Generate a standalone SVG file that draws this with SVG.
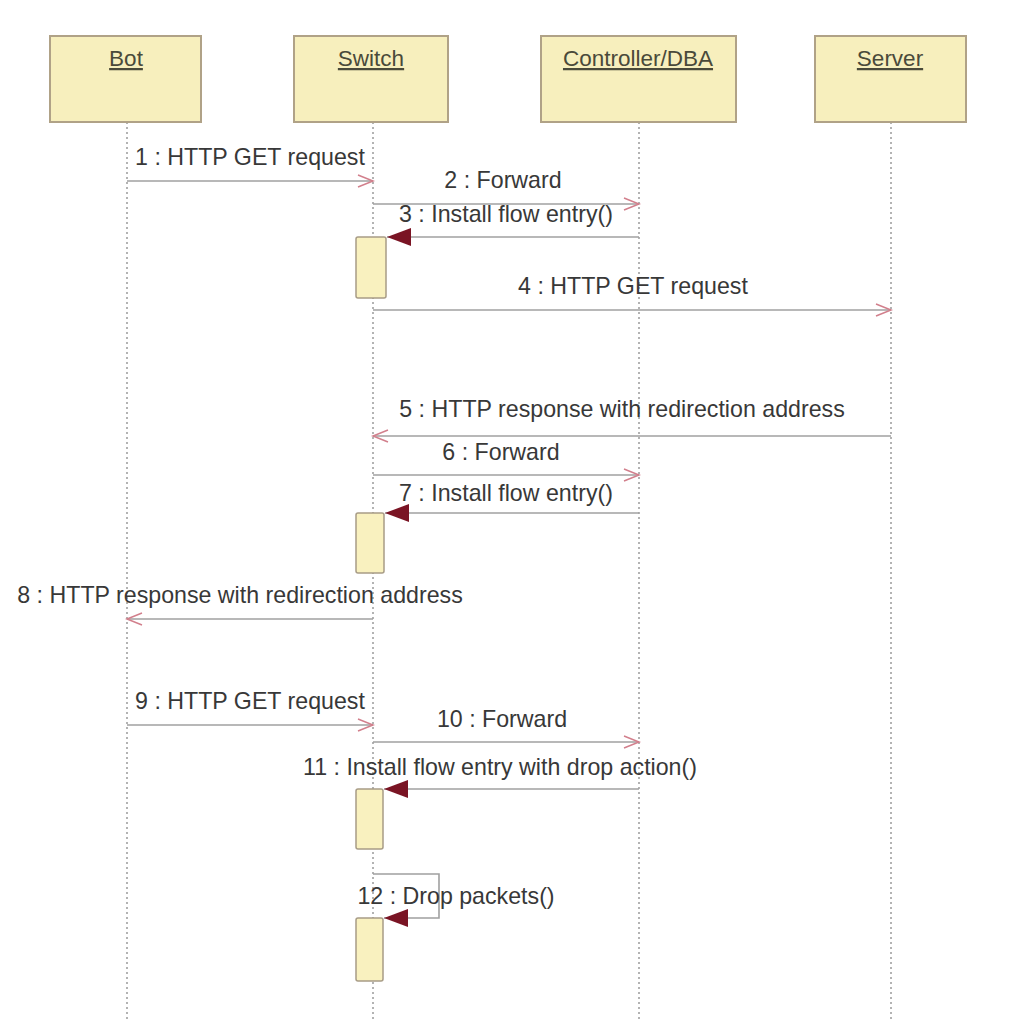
<svg xmlns="http://www.w3.org/2000/svg" width="1026" height="1026" viewBox="0 0 1026 1026">
<style>
.box{fill:#f7efbd;stroke:#b0a287;stroke-width:2}
.act{fill:#f9f1bf;stroke:#a89c86;stroke-width:1.5}
.name{font-family:"Liberation Sans",Arial,sans-serif;font-size:22.5px;fill:#4a4a3a;text-anchor:middle;text-decoration:underline}
.life{stroke:#9a9a9a;stroke-width:1.5;stroke-dasharray:2 3;fill:none}
.msg{stroke:#a0a0a0;stroke-width:1.6;fill:none}
.call{marker-end:url(#open)}
.ret{marker-end:url(#filled)}
.lbl{font-family:"Liberation Sans",Arial,sans-serif;font-size:23.2px;fill:#383838;text-anchor:middle}
</style>
<defs>
<marker id="open" markerUnits="userSpaceOnUse" markerWidth="20" markerHeight="16" refX="16" refY="7" orient="auto">
<path d="M1,1 L16,7 L1,13" fill="none" stroke="#d27f8c" stroke-width="1.5"/>
</marker>
<marker id="filled" markerUnits="userSpaceOnUse" markerWidth="26" markerHeight="20" refX="24" refY="10" orient="auto">
<path d="M0,1 L24,10 L0,19 Z" fill="#7a1424" stroke="none"/>
</marker>
</defs>

<g id="lifelines">
<line class="life" x1="127" y1="122" x2="127" y2="1022"/>
<line class="life" x1="373" y1="122" x2="373" y2="1022"/>
<line class="life" x1="639" y1="122" x2="639" y2="1022"/>
<line class="life" x1="891" y1="122" x2="891" y2="1022"/>
</g>

<g id="bot"><rect class="box" x="50" y="36" width="151" height="86"/><text class="name" x="126" y="66">Bot</text></g>
<g id="switch"><rect class="box" x="294" y="36" width="154" height="86"/><text class="name" x="371" y="66">Switch</text></g>
<g id="controller"><rect class="box" x="541" y="36" width="195" height="86"/><text class="name" x="638" y="66">Controller/DBA</text></g>
<g id="server"><rect class="box" x="815" y="36" width="151" height="86"/><text class="name" x="890" y="66">Server</text></g>

<g id="activations">
<rect class="act" x="356" y="237" width="30" height="61" rx="2"/>
<rect class="act" x="356" y="513" width="28" height="60" rx="2"/>
<rect class="act" x="356" y="789" width="27" height="60" rx="2"/>
<rect class="act" x="356" y="918" width="27" height="63" rx="2"/>
</g>

<g id="connectors">
<line class="msg call" x1="127" y1="181" x2="373" y2="181"/>
<line class="msg call" x1="373" y1="204" x2="639" y2="204"/>
<line class="msg ret" x1="639" y1="237" x2="387" y2="237"/>
<line class="msg call" x1="373" y1="310" x2="891" y2="310"/>
<line class="msg call" x1="891" y1="436" x2="373" y2="436"/>
<line class="msg call" x1="373" y1="475" x2="639" y2="475"/>
<line class="msg ret" x1="639" y1="513" x2="385" y2="513"/>
<line class="msg call" x1="373" y1="619" x2="127" y2="619"/>
<line class="msg call" x1="127" y1="725" x2="373" y2="725"/>
<line class="msg call" x1="373" y1="742" x2="639" y2="742"/>
<line class="msg ret" x1="639" y1="789" x2="384" y2="789"/>
<polyline class="msg ret" points="373,874 439,874 439,918 384,918"/>
</g>

<g id="labels">
<text class="lbl" x="250" y="165">1 : HTTP GET request</text>
<text class="lbl" x="503" y="188">2 : Forward</text>
<text class="lbl" x="506" y="222">3 : Install flow entry()</text>
<text class="lbl" x="633" y="294">4 : HTTP GET request</text>
<text class="lbl" x="622" y="417">5 : HTTP response with redirection address</text>
<text class="lbl" x="501" y="460">6 : Forward</text>
<text class="lbl" x="506" y="501">7 : Install flow entry()</text>
<text class="lbl" x="240" y="603">8 : HTTP response with redirection address</text>
<text class="lbl" x="250" y="709">9 : HTTP GET request</text>
<text class="lbl" x="502" y="727">10 : Forward</text>
<text class="lbl" x="500" y="775">11 : Install flow entry with drop action()</text>
<text class="lbl" x="456" y="904">12 : Drop packets()</text>
</g>
</svg>
